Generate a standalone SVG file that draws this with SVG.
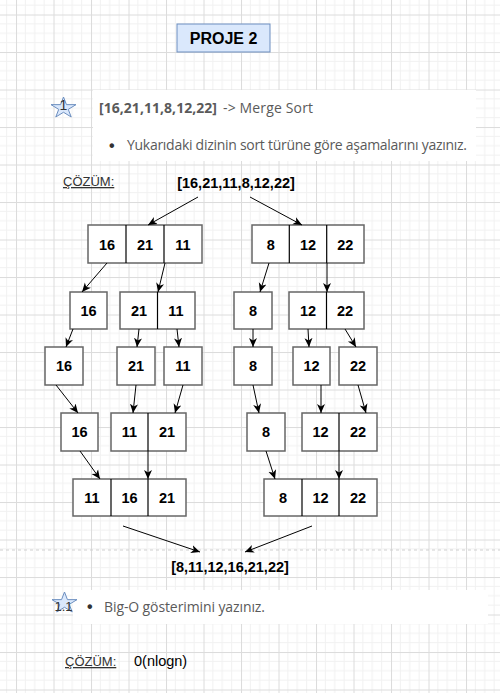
<svg xmlns="http://www.w3.org/2000/svg" width="500" height="693" viewBox="0 0 500 693">
<defs>
<pattern id="grid" patternUnits="userSpaceOnUse" x="16" y="14.5" width="37.5" height="37.5">
<rect width="37.5" height="37.5" fill="#ffffff"/>
<g stroke="#f1f1f1" stroke-width="1">
<line x1="9.375" y1="0" x2="9.375" y2="37.5"/><line x1="18.75" y1="0" x2="18.75" y2="37.5"/><line x1="28.125" y1="0" x2="28.125" y2="37.5"/>
<line x1="0" y1="9.375" x2="37.5" y2="9.375"/><line x1="0" y1="18.75" x2="37.5" y2="18.75"/><line x1="0" y1="28.125" x2="37.5" y2="28.125"/>
</g>
<rect x="0" y="0" width="1" height="37.5" fill="#dcdcdc"/>
<rect x="0" y="0" width="37.5" height="1" fill="#dcdcdc"/>
</pattern>
<marker id="arr" markerUnits="userSpaceOnUse" markerWidth="10" markerHeight="10" viewBox="0 0 10 10" refX="9" refY="5" orient="auto">
<path d="M0,1 L9,5 L0,9 L2.5,5 Z" fill="#000"/>
</marker>
<polygon id="star" points="0,-11.06 2.95,-3.42 12.5,-3.42 4.77,1.3 7.73,8.94 0,4.22 -7.73,8.94 -4.77,1.3 -12.5,-3.42 -2.95,-3.42" fill="#dae8fc" stroke="#6c8ebf" stroke-width="1"/>
</defs>
<style>
.box{fill:#fff;stroke:#666;stroke-width:1.5}
.div{stroke:#000;stroke-width:1.2}
.num{font-family:"Liberation Sans",Arial,sans-serif;font-weight:bold;font-size:14.5px;fill:#000;text-anchor:middle}
.con line{stroke:#000;stroke-width:1;marker-end:url(#arr)}
.q{font-family:"Open Sans","Noto Sans",sans-serif;font-size:14px;fill:#5a5a5a}
.bul{font-family:"Liberation Sans",Arial,sans-serif;font-size:16px;font-weight:bold;fill:#333}
.sol{font-family:"Liberation Sans",Arial,sans-serif;font-size:13px;fill:#333;text-decoration:underline}
</style>
<rect width="500" height="693" fill="url(#grid)"/>
<line x1="0" y1="550" x2="500" y2="550" stroke="#cfcfcf" stroke-width="1" stroke-dasharray="3 3"/>

<g id="title">
<rect x="177" y="24" width="93" height="28" fill="#dae8fc" stroke="#6c8ebf" stroke-width="1"/>
<text x="223.5" y="43.5" text-anchor="middle" font-family="Liberation Sans,Arial,sans-serif" font-weight="bold" font-size="16" fill="#000">PROJE 2</text>
</g>

<g id="question1">
<rect x="93" y="90" width="383" height="71" fill="#fff"/>
<use href="#star" x="63.5" y="108.06"/>
<text x="63.5" y="109.5" text-anchor="middle" font-family="Liberation Sans,Arial,sans-serif" font-size="14" fill="#333">1</text>
<text class="q" x="99" y="113" font-weight="bold" fill="#333" textLength="118">[16,21,11,8,12,22]</text>
<text class="q" x="223" y="113" textLength="90">-&gt; Merge Sort</text>
<text class="bul" x="109" y="151">•</text>
<text class="q" x="127" y="150" textLength="340">Yukarıdaki dizinin sort türüne göre aşamalarını yazınız.</text>
</g>

<g id="solution1">
<text class="sol" x="63" y="186">ÇÖZÜM:</text>
<text class="num" x="236" y="188">[16,21,11,8,12,22]</text>
</g>

<g id="r1l"><rect class="box" x="88" y="225" width="114" height="38"/><line class="div" x1="126" y1="225" x2="126" y2="263"/><line class="div" x1="164" y1="225" x2="164" y2="263"/>
<text class="num" x="107" y="249.5">16</text><text class="num" x="145" y="249.5">21</text><text class="num" x="183" y="249.5">11</text></g>
<g id="r1r"><rect class="box" x="252" y="225" width="112" height="38"/><line class="div" x1="289.3" y1="225" x2="289.3" y2="263"/><line class="div" x1="326.7" y1="225" x2="326.7" y2="263"/>
<text class="num" x="270.7" y="249.5">8</text><text class="num" x="308" y="249.5">12</text><text class="num" x="345.3" y="249.5">22</text></g>

<g id="r2a"><rect class="box" x="70" y="292" width="37" height="37"/><text class="num" x="88.5" y="315.5">16</text></g>
<g id="r2b"><rect class="box" x="120" y="292" width="75" height="37"/><line class="div" x1="157.5" y1="292" x2="157.5" y2="329"/><text class="num" x="139" y="315.5">21</text><text class="num" x="176" y="315.5">11</text></g>
<g id="r2c"><rect class="box" x="234" y="292" width="38" height="37"/><text class="num" x="253" y="315.5">8</text></g>
<g id="r2d"><rect class="box" x="289" y="292" width="75" height="37"/><line class="div" x1="326.5" y1="292" x2="326.5" y2="329"/><text class="num" x="308" y="315.5">12</text><text class="num" x="345" y="315.5">22</text></g>

<g id="r3a"><rect class="box" x="45" y="347" width="38" height="38"/><text class="num" x="64" y="371">16</text></g>
<g id="r3b"><rect class="box" x="117" y="347" width="38" height="38"/><text class="num" x="136" y="371">21</text></g>
<g id="r3c"><rect class="box" x="164" y="347" width="38" height="38"/><text class="num" x="183" y="371">11</text></g>
<g id="r3d"><rect class="box" x="234" y="347" width="38" height="38"/><text class="num" x="253" y="371">8</text></g>
<g id="r3e"><rect class="box" x="293" y="347" width="37" height="38"/><text class="num" x="311.5" y="371">12</text></g>
<g id="r3f"><rect class="box" x="339" y="347" width="38" height="38"/><text class="num" x="358" y="371">22</text></g>

<g id="r4a"><rect class="box" x="61" y="413" width="37" height="38"/><text class="num" x="79.5" y="437">16</text></g>
<g id="r4b"><rect class="box" x="111" y="413" width="75" height="38"/><line class="div" x1="148" y1="413" x2="148" y2="451"/><text class="num" x="129.5" y="437">11</text><text class="num" x="167" y="437">21</text></g>
<g id="r4c"><rect class="box" x="247" y="413" width="38" height="38"/><text class="num" x="266" y="437">8</text></g>
<g id="r4d"><rect class="box" x="302" y="413" width="75" height="38"/><line class="div" x1="339" y1="413" x2="339" y2="451"/><text class="num" x="320.5" y="437">12</text><text class="num" x="358" y="437">22</text></g>

<g id="r5l"><rect class="box" x="73" y="479" width="113" height="37"/><line class="div" x1="111" y1="479" x2="111" y2="516"/><line class="div" x1="148" y1="479" x2="148" y2="516"/>
<text class="num" x="92" y="502.5">11</text><text class="num" x="129.5" y="502.5">16</text><text class="num" x="167" y="502.5">21</text></g>
<g id="r5r"><rect class="box" x="264" y="479" width="113" height="37"/><line class="div" x1="302" y1="479" x2="302" y2="516"/><line class="div" x1="339" y1="479" x2="339" y2="516"/>
<text class="num" x="283" y="502.5">8</text><text class="num" x="320.5" y="502.5">12</text><text class="num" x="358" y="502.5">22</text></g>

<g id="result"><text class="num" x="230" y="572">[8,11,12,16,21,22]</text></g>

<g id="connectors" class="con">
<line x1="198" y1="197" x2="148" y2="225"/>
<line x1="250" y1="197" x2="302" y2="225"/>
<line x1="107" y1="263" x2="82" y2="292"/>
<line x1="165" y1="263" x2="158" y2="292"/>
<line x1="269" y1="263" x2="260" y2="292"/>
<line x1="327" y1="263" x2="327" y2="292"/>
<line x1="73" y1="329" x2="66" y2="347"/>
<line x1="139" y1="329" x2="137" y2="347"/>
<line x1="177" y1="329" x2="179" y2="347"/>
<line x1="253" y1="329" x2="253" y2="347"/>
<line x1="308" y1="329" x2="309" y2="347"/>
<line x1="345" y1="329" x2="356" y2="347"/>
<line x1="56" y1="385" x2="78" y2="413"/>
<line x1="136" y1="385" x2="133" y2="413"/>
<line x1="183" y1="385" x2="175" y2="413"/>
<line x1="253" y1="385" x2="259" y2="413"/>
<line x1="321" y1="385" x2="321" y2="413"/>
<line x1="358" y1="385" x2="366" y2="413"/>
<line x1="80" y1="451" x2="100" y2="479"/>
<line x1="148" y1="451" x2="148" y2="479"/>
<line x1="266" y1="451" x2="275" y2="479"/>
<line x1="339" y1="451" x2="339" y2="479"/>
<line x1="123" y1="526" x2="200" y2="552"/>
<line x1="312" y1="526" x2="245" y2="552"/>
</g>

<g id="question2">
<rect x="73" y="590" width="415" height="34" fill="#fff"/>
<use href="#star" x="64.5" y="603.06"/>
<text x="63.5" y="611" text-anchor="middle" font-family="Liberation Sans,Arial,sans-serif" font-size="13" fill="#333">1.1</text>
<text class="bul" x="87" y="612">•</text>
<text class="q" x="104" y="612" textLength="161">Big-O gösterimini yazınız.</text>
</g>

<g id="solution2">
<text class="sol" x="65" y="666">ÇÖZÜM:</text>
<text x="134" y="666" font-family="Liberation Sans,Arial,sans-serif" font-size="14.5" fill="#000">0(nlogn)</text>
</g>
</svg>
